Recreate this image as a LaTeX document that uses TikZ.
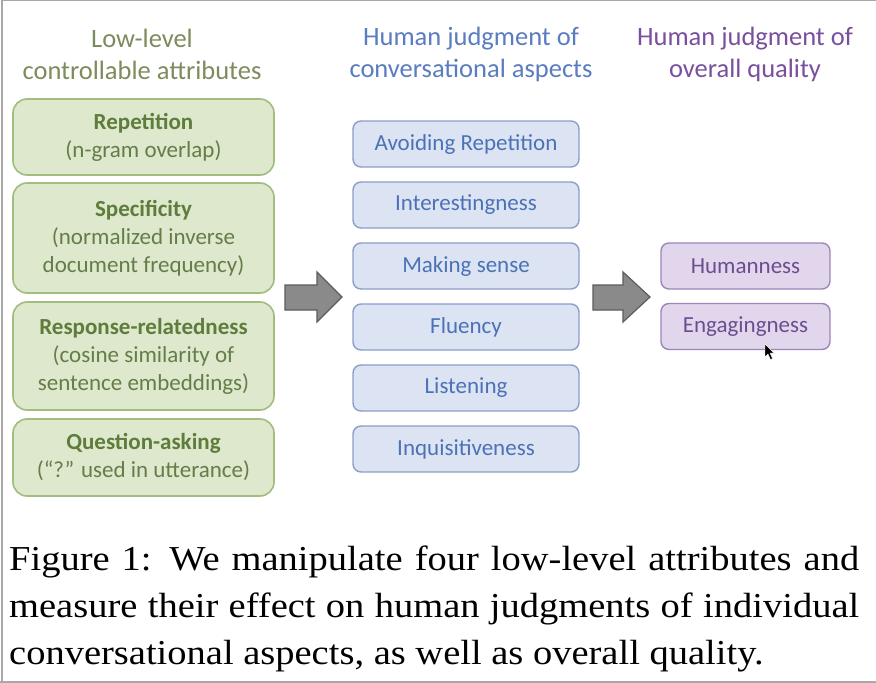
\documentclass[tikz,border=0pt]{standalone}
\usepackage{fontspec}
\setmainfont{Carlito}
\newfontfamily\capfont[FakeStretch=1.1]{Liberation Serif}
\definecolor{gfill}{HTML}{DDE8CC}
\definecolor{gdraw}{HTML}{A2BD80}
\definecolor{gtext}{HTML}{5E7C3C}
\definecolor{ghead}{HTML}{7C8C5C}
\definecolor{bfill}{HTML}{DCE4F3}
\definecolor{bdraw}{HTML}{8C9EC8}
\definecolor{btext}{HTML}{4B72B6}
\definecolor{bhead}{HTML}{5A7CC0}
\definecolor{pfill}{HTML}{E2D6EC}
\definecolor{pdraw}{HTML}{9C86BA}
\definecolor{ptext}{HTML}{6A4E90}
\definecolor{phead}{HTML}{7A4F9E}
\definecolor{afill}{HTML}{8A8A8A}
\definecolor{adraw}{HTML}{5C5C5C}
\definecolor{frame}{HTML}{A8A8A8}
\tikzset{
  head/.style={align=center, font=\fontsize{26.5}{32}\selectfont},
  gbox/.style={draw=gdraw, line width=1.6pt, fill=gfill, rounded corners=14pt,
    minimum width=261pt, align=center, text=gtext!80!gray, inner sep=0pt,
    font=\fontsize{23}{28}\selectfont},
  bbox/.style={draw=bdraw, line width=1.4pt, fill=bfill, rounded corners=8pt,
    minimum width=226pt, minimum height=46pt, text=btext, inner sep=0pt,
    font=\fontsize{23}{26}\selectfont},
  pbox/.style={draw=pdraw, line width=1.4pt, fill=pfill, rounded corners=8pt,
    minimum width=169pt, minimum height=46pt, text=ptext, inner sep=0pt,
    font=\fontsize{23}{26}\selectfont},
  blockarrow/.style={draw=adraw, line width=1.2pt, fill=afill, line join=miter},
  capline/.style={anchor=base west, inner sep=0pt, font=\capfont\fontsize{35}{46}\selectfont}
}
\begin{document}
\begin{tikzpicture}[x=1pt, y=-1pt]
\useasboundingbox (0,0) rectangle (876,683);
\fill[white] (0,0) rectangle (876,683);
\draw[frame, line width=1.5pt] (1,0.5) -- (876,0.5);
\draw[frame, line width=2pt] (2,0) -- (2,682);
\draw[frame, line width=2pt] (0,681.5) -- (876,681.5);

% headers
\node[head, text=ghead] (h1) at (142,54) {Low-level\\controllable attributes};
\node[head, text=bhead] (h2) at (471,54) {Human judgment of\\conversational aspects};
\node[head, text=phead] (h3) at (745,54) {Human judgment of\\overall quality};

% green column
\node[gbox, minimum height=76pt] (g1) at (143.5,137) {\textbf{\color{gtext}Repetition}\\(n-gram overlap)};
\node[gbox, minimum height=110pt] (g2) at (143.5,238) {\textbf{\color{gtext}Specificity}\\(normalized inverse\\document frequency)};
\node[gbox, minimum height=108pt] (g3) at (143.5,356) {\textbf{\color{gtext}Response-relatedness}\\(cosine similarity of\\sentence embeddings)};
\node[gbox, minimum height=77pt] (g4) at (143.5,457.5) {\textbf{\color{gtext}Question-asking}\\(“?” used in utterance)};

% blue column
\node[bbox] (b1) at (466,144) {Avoiding Repetition};
\node[bbox] (b2) at (466,205) {Interestingness};
\node[bbox] (b3) at (466,266) {Making sense};
\node[bbox] (b4) at (466,327) {Fluency};
\node[bbox] (b5) at (466,388) {Listening};
\node[bbox] (b6) at (466,449) {Inquisitiveness};

% purple column
\node[pbox] (p1) at (745.5,266) {Humanness};
\node[pbox] (p2) at (745.5,326.5) {Engagingness};

% block arrows
\draw[blockarrow] (285,285) -- (317,285) -- (317,272) -- (342,297) -- (317,322) -- (317,310) -- (285,310) -- cycle;
\draw[blockarrow] (593,285) -- (623,285) -- (623,272) -- (650,297) -- (623,322) -- (623,310) -- (593,310) -- cycle;

% mouse pointer
\fill[black, draw=white, line width=0.4pt] (765,344) -- (765,357) -- (768,354) -- (770.5,359.5) -- (772.5,358.5) -- (770,353) -- (774,353) -- cycle;

% caption
\node[capline] (c1) at (9,570) {\makebox[850pt][s]{Figure 1: We manipulate four low-level attributes and}};
\node[capline] (c2) at (9,617) {\makebox[850pt][s]{measure their effect on human judgments of individual}};
\node[capline] (c3) at (9,664) {conversational aspects, as well as overall quality.};
\end{tikzpicture}
\end{document}
